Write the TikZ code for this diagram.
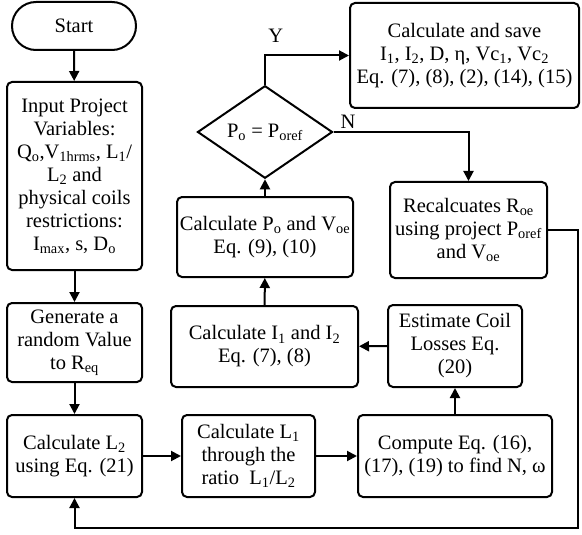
\documentclass[tikz,border=0pt]{standalone}
\usepackage{fontspec}
\setmainfont{Liberation Serif}
\usetikzlibrary{positioning,arrows.meta,shapes.geometric}
\newcommand{\sbs}[1]{\textsubscript{#1}}

\begin{document}
\begin{tikzpicture}[x=1pt, y=-1pt, font=\fontsize{20.5}{23}\selectfont, >={Triangle[length=10pt,width=10pt]},
          box/.style={draw, line width=2pt, rounded corners=5pt, align=center, inner sep=1pt},
          term/.style={draw, line width=2pt, rounded corners=24pt, align=center},
          decide/.style={draw, line width=2pt, diamond, inner sep=0pt, align=center},
          flow/.style={->, line width=2pt}]
        \useasboundingbox (0,0) rectangle (582,535);
        \node[term, minimum width=124pt, minimum height=48pt] (start) at (74,26) {Start};
        \node[box, minimum width=135pt, minimum height=188pt] (input) at (74.5,176)
          {Input Project\\ Variables:\\ Q\sbs{o},V\sbs{1hrms}, L\sbs{1}/\\ L\sbs{2} and\\ physical coils\\ restrictions:\\ I\sbs{max}, s, D\sbs{o}};
        \node[box, minimum width=135pt, minimum height=79pt] (gen) at (74.5,342.5)
          {Generate a\\ random Value\\ to R\sbs{eq}};
        \node[box, minimum width=135pt, minimum height=82pt] (calcl2) at (74.5,456)
          {Calculate L\sbs{2}\\ using Eq. (21)};
        \node[box, minimum width=133pt, minimum height=82pt] (calcl1) at (248.5,456)
          {Calculate L\sbs{1}\\ through the\\ ratio\ \ L\sbs{1}/L\sbs{2}};
        \node[box, minimum width=194pt, minimum height=82pt] (compute) at (455,456)
          {Compute Eq. (16),\\ (17), (19) to find N, ω};
        \node[box, minimum width=134pt, minimum height=82pt] (losses) at (455,346)
          {Estimate Coil\\ Losses Eq.\\ (20)};
        \node[box, minimum width=187pt, minimum height=81pt] (calci) at (264.5,346.5)
          {Calculate I\sbs{1} and I\sbs{2}\\ Eq. (7), (8)};
        \node[box, minimum width=176pt, minimum height=80pt] (calcp) at (265,237)
          {Calculate P\sbs{o} and V\sbs{oe}\\ Eq. (9), (10)};
        \node[decide, minimum width=135pt, minimum height=71pt] (check) at (265,132)
          {P\sbs{o} = P\sbs{oref}};
        \node[box, minimum width=229pt, minimum height=105pt] (save) at (464.5,55.5)
          {Calculate and save\\ I\sbs{1}, I\sbs{2}, D, η, Vc\sbs{1}, Vc\sbs{2}\\ Eq. (7), (8), (2), (14), (15)};
        \node[box, minimum width=157pt, minimum height=96pt] (recalc) at (468.5,230)
          {Recalcuates R\sbs{oe}\\ using project P\sbs{oref}\\ and V\sbs{oe}};
        \coordinate (loopcorner) at (578,528);
        % main chain
        \draw[flow] (start) -- (input);
        \draw[flow] (input) -- (gen);
        \draw[flow] (gen) -- (calcl2);
        \draw[flow] (calcl2) -- (calcl1);
        \draw[flow] (calcl1) -- (compute);
        \draw[flow] (compute) -- (losses);
        \draw[flow] (losses) -- (calci);
        \draw[flow] (calci) -- (calcp);
        \draw[flow] (calcp) -- (check);
        % decision branches
        \draw[flow] (check.north) |- (save.west) node[pos=0.5, anchor=south west, xshift=-1pt, yshift=9pt] {Y};
        \draw[flow] (check.east) -| (recalc.north) node[pos=0, anchor=south west, xshift=5pt, yshift=1pt, inner sep=1pt] {N};
        \draw[flow] (recalc.east) -| (loopcorner) -| (calcl2.south);
      \end{tikzpicture}
\end{document}
